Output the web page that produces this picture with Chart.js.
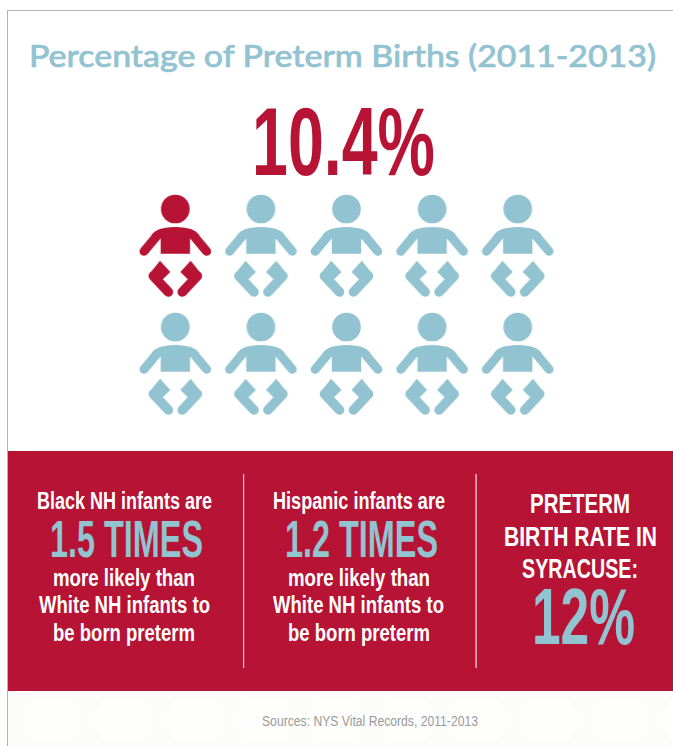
<!DOCTYPE html>
<html><head><meta charset="utf-8">
<script src="https://cdn.jsdelivr.net/npm/chart.js@4"></script>
<style>
html,body{margin:0;padding:0;background:#fff;width:673px;height:746px;overflow:hidden}
#stage{position:absolute;left:0;top:0;width:673px;height:746px}
#art{position:absolute;left:0;top:0}
#wrap{position:absolute;left:133px;top:188px;width:428px;height:236px}
</style></head><body>
<div id="stage">
<svg id="art" width="673" height="746" xmlns="http://www.w3.org/2000/svg"></svg>
<div id="wrap"><canvas id="c" width="428" height="236"></canvas></div>
</div>
<script>
// ---- data ----
const babyColumns = [1,2,3,4,5,1,2,3,4,5];
const babyRows    = [1,1,1,1,1,2,2,2,2,2];
const pretermFlag = [1,0,0,0,0,0,0,0,0,0];
const titleText   = "Percentage of Preterm Births (2011-2013)";
const headline    = "10.4%";
const column1     = ["Black NH infants are","1.5 TIMES","more likely than","White NH infants to","be born preterm"];
const column2     = ["Hispanic infants are","1.2 TIMES","more likely than","White NH infants to","be born preterm"];
const column3     = ["PRETERM","BIRTH RATE IN","SYRACUSE:","12%"];
const sourceText  = "Sources: NYS Vital Records, 2011-2013";

const RED="#b61335", BLUE="#92c3d1";
const NARROW="'Liberation Sans Narrow','Liberation Sans',sans-serif";
const svg=document.getElementById('art');
const NS="http://www.w3.org/2000/svg";
function el(n,a){const e=document.createElementNS(NS,n);for(const k in a)e.setAttribute(k,a[k]);svg.appendChild(e);return e;}
function txt(s,x0,x1,base,size,fill,opt){opt=opt||{};
  const e=el('text',{x:x0,y:base,textLength:x1-x0,lengthAdjust:'spacingAndGlyphs','font-size':size,fill:fill,
    'font-family':opt.family||NARROW,'font-weight':opt.weight||'bold'});
  if(opt.stroke){e.setAttribute('stroke',fill);e.setAttribute('stroke-width',opt.stroke);}
  e.textContent=s;}

// page frame + faint footer pattern
el('rect',{x:8,y:691,width:665,height:55,fill:'#fcfcfb'});
for(let i=0;i<10;i++){const cx=52+i*71;
  el('polygon',{points:[cx-33,720,cx-20,699,cx+20,699,cx+33,720,cx+20,741,cx-20,741].join(' '),fill:'#fefefd'});}
el('rect',{x:7,y:10,width:666,height:1,fill:'#b4b4b4'});
el('rect',{x:7,y:10,width:1,height:736,fill:'#b4b4b4'});
el('rect',{x:8,y:451,width:665,height:240,fill:RED});
el('rect',{x:243,y:474,width:1.2,height:194,fill:'#e9c4cd'});
el('rect',{x:475.5,y:474,width:1.2,height:194,fill:'#f3dfe3'});

txt(titleText,29,656,67,30,BLUE,{family:"Lato,'Open Sans',sans-serif",weight:'500',stroke:0.6});
txt(headline,252,435,175,97,RED);

const baseL=[509,557,586,613,641], sizeL=[24,52,24,24,24];
[[column1,[37,212],[50,203],[53,195],[39,210],[53,195]],
 [column2,[273,445],[285,438],[288,430],[273,444],[288,430]]].forEach(c=>{
  c[0].forEach((s,i)=>txt(s,c[i+1][0],c[i+1][1],baseL[i],sizeL[i],i==1?BLUE:'#fff'));
});
txt(column3[0],530,630,513,28,'#fff');
txt(column3[1],504,657,546,28,'#fff');
txt(column3[2],522,638,578,28,'#fff');
txt(column3[3],532,635,644,80,BLUE);
txt(sourceText,262,478,726,15.5,'#9a9a9a',{weight:'normal'});

// baby icon as a custom Chart.js point style (drawn in 3x units, x=0 on the head axis)
function baby(color){
  const W=80, H=112, cv=document.createElement('canvas');
  cv.width=W;cv.height=H;
  const g=cv.getContext('2d');
  g.scale(1/3,1/3);g.translate(W*1.5-1.5,H*1.5-187);
  g.fillStyle=color;g.strokeStyle=color;g.lineJoin='round';g.lineCap='round';
  g.beginPath();g.arc(0,73,43,0,Math.PI*2);g.fill();
  const line=(a,b,c,d,w)=>{g.lineWidth=w;g.beginPath();g.moveTo(a,b);g.lineTo(c,d);g.stroke();};
  // torso as one closed shape, so no seam shows on the axis
  g.beginPath();g.moveTo(-44,207);g.lineTo(44,207);g.lineTo(44,160);g.lineTo(72,150);g.lineTo(52,135);
  g.quadraticCurveTo(30,127,0,127);g.quadraticCurveTo(-30,127,-52,135);g.lineTo(-72,150);g.lineTo(-44,160);
  g.closePath();g.fill();
  [-1,1].forEach(m=>{
    line(m*94,200,m*54,152,27);
    g.beginPath();g.moveTo(m*46,228);g.lineTo(m*15,262);g.lineTo(m*39,285);g.lineTo(m*60,292);
    g.lineTo(m*78,268);g.closePath();g.fill();
    line(m*66,274,m*21,322,29);
  });
  return cv;
}
const redBaby=baby(RED), blueBaby=baby(BLUE);

new Chart(document.getElementById('c'),{
  type:'scatter',
  data:{datasets:[{
    label:'Preterm births',
    data:babyColumns.map((x,i)=>({x:x,y:babyRows[i]})),
    pointStyle:pretermFlag.map(f=>f?redBaby:blueBaby),
    pointRadius:40,clip:false
  }]},
  options:{responsive:false,animation:false,events:[],
    layout:{padding:0,autoPadding:false},
    plugins:{legend:{display:false},tooltip:{enabled:false},title:{display:false}},
    scales:{
      x:{type:'linear',min:0.5,max:5.5,display:false},
      y:{type:'linear',min:0.5,max:2.5,reverse:true,display:false}
    }}
});
</script>
</body></html>
